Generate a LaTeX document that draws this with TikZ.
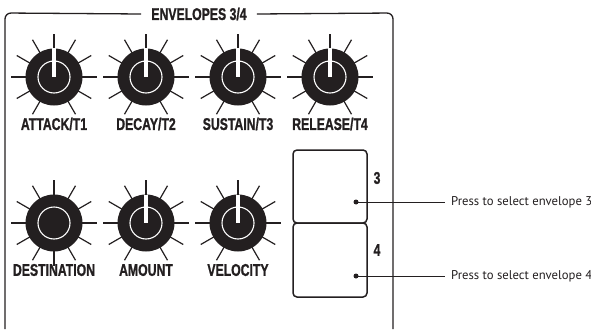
\documentclass[tikz,border=0pt]{standalone}
\usepackage{fontspec}
\setmainfont{Liberation Sans}
\newfontfamily\panelfont[FakeStretch=0.72,FakeBold=1]{Liberation Sans}
\newfontfamily\notefont{PT Sans}
\usepackage{tikz}
\usetikzlibrary{positioning}
\definecolor{ink}{HTML}{231F20}
\tikzset{
  every picture/.style={line join=round, line cap=butt},
  frame/.style={draw=ink, line width=1.3pt, rounded corners=6pt},
  knobbody/.style={circle, fill=ink, minimum size=57pt, inner sep=0pt},
  knobtick/.style={draw=ink, line width=1.2pt},
  knobring/.style={draw=white, line width=1.1pt},
  knoblabel/.style={font=\panelfont\bfseries\fontsize{17}{17}\selectfont, text=ink, inner sep=0pt},
  button/.style={draw=ink, line width=1.5pt, rounded corners=4pt, minimum width=74pt, inner sep=0pt},
  dot/.style={circle, fill=ink, minimum size=5pt, inner sep=0pt},
  note/.style={font=\notefont\fontsize{12.7}{12.7}\selectfont, text=ink, anchor=west, inner sep=6pt},
}
% one knob: name, centre, label, tick angles
\newcommand{\knob}[4]{%
  \node[knobbody] (#1) at (#2) {};
  \foreach \a in {#4} \draw[knobtick] (#1.center) ++(\a:27pt) -- ++(\a:16pt);
  \draw[knobring] (#1.center) circle[radius=16pt];
  \node[knoblabel] (#1lbl) at ([yshift=-47pt]#1.center) {#3};
}
\newcommand{\pointer}[1]{%
  \fill[white] ([xshift=-2pt]#1.center) rectangle ++(4pt,28.5pt);
}
\begin{document}
\begin{tikzpicture}[x=1pt,y=-1pt]
\useasboundingbox (0,0) rectangle (591,329);
% panel frame and title
\node[knoblabel, inner xsep=10pt] (title) at (199,14) {ENVELOPES 3/4};
\draw[frame] (title.west) -- (5,13) -- (5,329);
\draw[frame] (title.east) -- (393,13) -- (393,329);
% upper row
\knob{attack}{54,77}{ATTACK/T1}{0,30,...,240,300,330}
\knob{decay}{146,77}{DECAY/T2}{0,30,...,240,300,330}
\knob{sustain}{238,77}{SUSTAIN/T3}{0,30,...,240,300,330}
\knob{release}{330,77}{RELEASE/T4}{0,30,...,240,300,330}
\pointer{attack}
\pointer{decay}
\pointer{sustain}
\pointer{release}
% lower row
\knob{dest}{54,223}{DESTINATION}{0,30,...,330}
\knob{amount}{146,223}{AMOUNT}{0,30,...,240,300,330}
\knob{velocity}{238,223}{VELOCITY}{0,30,...,240,300,330}
\pointer{amount}
\pointer{velocity}
% envelope select buttons
\node[button, minimum height=73pt] (btn3) at (330,186.5) {};
\node[button, minimum height=74pt] (btn4) at (330,260) {};
\node[knoblabel] (num3) at (377,178) {3};
\node[knoblabel] (num4) at (377,250) {4};
\node[dot] (dot3) at (356,202) {};
\node[dot] (dot4) at (356,276) {};
\node[note] (note3) at (445,202) {Press to select envelope 3};
\node[note] (note4) at (445,276) {Press to select envelope 4};
\draw[knobtick, line width=1pt] (dot3.center) -- (note3.west);
\draw[knobtick, line width=1pt] (dot4.center) -- (note4.west);
\end{tikzpicture}
\end{document}
